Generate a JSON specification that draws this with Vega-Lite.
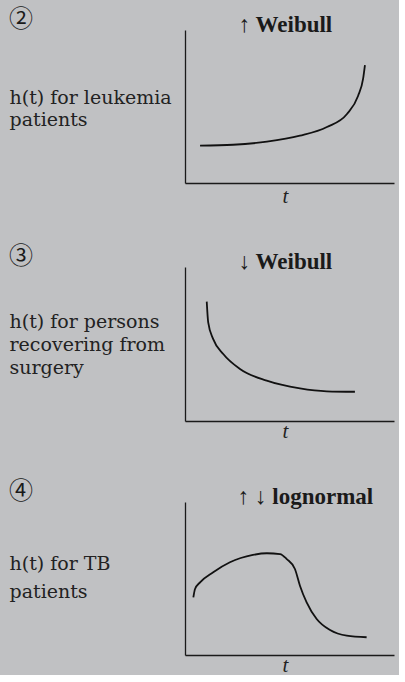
{
  "$schema": "https://vega.github.io/schema/vega-lite/v6.json",
  "background": "#c0c1c3",
  "padding": {"left": 9, "top": 8, "right": 5, "bottom": 0},
  "spacing": 39,
  "config": {
    "font": "Liberation Serif",
    "view": {"stroke": null},
    "axis": {"domainColor": "#1a1a1a", "domainWidth": 1.3, "ticks": false, "labels": false, "grid": false, "titleFont": "DejaVu Serif", "titleFontSize": 19, "titleFontWeight": "normal", "titleColor": "#222222"},
    "line": {"color": "#111111", "strokeWidth": 1.8, "interpolate": "monotone"},
    "title": {"font": "Liberation Serif", "color": "#1a1a1a"}
  },
  "datasets": {
    "leukemia": [
      {"t": 0.72, "h": 2.44}, {"t": 2.30, "h": 2.50}, {"t": 3.92, "h": 2.70}, {"t": 5.50, "h": 3.09}, {"t": 6.79, "h": 3.66}, {"t": 7.75, "h": 4.51}, {"t": 8.28, "h": 5.69}, {"t": 8.52, "h": 6.80}, {"t": 8.61, "h": 7.71}
    ],
    "surgery": [
      {"t": 1.04, "h": 7.75}, {"t": 1.11, "h": 6.41}, {"t": 1.35, "h": 5.32}, {"t": 1.83, "h": 4.35}, {"t": 2.63, "h": 3.38}, {"t": 3.91, "h": 2.62}, {"t": 5.50, "h": 2.12}, {"t": 6.78, "h": 1.93}, {"t": 8.13, "h": 1.90}
    ],
    "tb": [
      {"t": 0.40, "h": 3.77}, {"t": 0.48, "h": 4.31}, {"t": 0.72, "h": 4.75}, {"t": 1.35, "h": 5.41}, {"t": 2.15, "h": 6.06}, {"t": 3.25, "h": 6.54}, {"t": 3.92, "h": 6.65}, {"t": 4.55, "h": 6.60}, {"t": 4.87, "h": 6.27}, {"t": 5.26, "h": 5.62}, {"t": 5.50, "h": 4.53}, {"t": 5.82, "h": 3.44}, {"t": 6.30, "h": 2.35}, {"t": 6.94, "h": 1.63}, {"t": 7.74, "h": 1.26}, {"t": 8.69, "h": 1.16}
    ]
  },
  "vconcat": [
    {
      "title": {"text": "②", "anchor": "start", "frame": "bounds", "font": "Noto Sans CJK JP", "fontSize": 24, "fontWeight": "normal", "offset": -18},
      "vconcat": [
        {
          "width": 209, "height": 153,
          "title": {"text": "↑ Weibull", "fontSize": 23, "fontWeight": "bold", "anchor": "middle", "baseline": "alphabetic", "offset": -25, "dx": -4},
          "data": {"name": "leukemia"},
          "mark": {"type": "line"},
          "encoding": {
            "x": {"field": "t", "type": "quantitative", "scale": {"domain": [0, 10]}, "axis": {"title": "t", "titleFont": "Liberation Serif", "titleFontSize": 21, "titleFontStyle": "italic", "titleX": 100, "titleY": 19, "titleBaseline": "alphabetic", "titleAlign": "center"}},
            "y": {"field": "h", "type": "quantitative", "scale": {"domain": [0, 10]}, "axis": {"title": ["h(t) for leukemia", "patients"], "titleAngle": 0, "titleAlign": "left", "titleBaseline": "alphabetic", "titleX": -176, "titleY": 73, "titleLineHeight": 22}}
          }
        }
      ]
    },
    {
      "title": {"text": "③", "anchor": "start", "frame": "bounds", "font": "Noto Sans CJK JP", "fontSize": 24, "fontWeight": "normal", "offset": -18},
      "vconcat": [
        {
          "width": 209, "height": 154,
          "title": {"text": "↓ Weibull", "fontSize": 23, "fontWeight": "bold", "anchor": "middle", "baseline": "alphabetic", "offset": -25, "dx": -4},
          "data": {"name": "surgery"},
          "mark": {"type": "line"},
          "encoding": {
            "x": {"field": "t", "type": "quantitative", "scale": {"domain": [0, 10]}, "axis": {"title": "t", "titleFont": "Liberation Serif", "titleFontSize": 21, "titleFontStyle": "italic", "titleX": 100, "titleY": 16, "titleBaseline": "alphabetic", "titleAlign": "center"}},
            "y": {"field": "h", "type": "quantitative", "scale": {"domain": [0, 10]}, "axis": {"title": ["h(t) for persons", "recovering from", "surgery"], "titleAngle": 0, "titleAlign": "left", "titleBaseline": "alphabetic", "titleX": -176, "titleY": 60, "titleLineHeight": 23}}
          }
        }
      ]
    },
    {
      "title": {"text": "④", "anchor": "start", "frame": "bounds", "font": "Noto Sans CJK JP", "fontSize": 24, "fontWeight": "normal", "offset": -18},
      "vconcat": [
        {
          "width": 209, "height": 153,
          "title": {"text": "↑ ↓ lognormal", "fontSize": 23, "fontWeight": "bold", "anchor": "middle", "baseline": "alphabetic", "offset": -25, "dx": 16},
          "data": {"name": "tb"},
          "mark": {"type": "line"},
          "encoding": {
            "x": {"field": "t", "type": "quantitative", "scale": {"domain": [0, 10]}, "axis": {"title": "t", "titleFont": "Liberation Serif", "titleFontSize": 21, "titleFontStyle": "italic", "titleX": 100, "titleY": 16, "titleBaseline": "alphabetic", "titleAlign": "center"}},
            "y": {"field": "h", "type": "quantitative", "scale": {"domain": [0, 10]}, "axis": {"title": ["h(t) for TB", "patients"], "titleAngle": 0, "titleAlign": "left", "titleBaseline": "alphabetic", "titleX": -176, "titleY": 67, "titleLineHeight": 28}}
          }
        }
      ]
    }
  ]
}
